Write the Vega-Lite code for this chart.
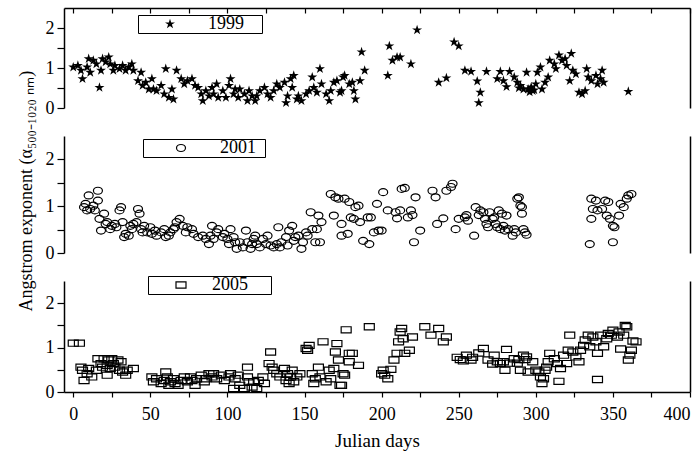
{
  "$schema": "https://vega.github.io/schema/vega-lite/v6.json",
  "background": "white",
  "padding": {"left": 17, "top": 7, "right": 4, "bottom": 4},
  "spacing": 28,
  "bounds": "flush",
  "resolve": {"scale": {"shape": "independent"}, "legend": {"shape": "independent"}},
  "config": {
    "font": "Liberation Serif",
    "view": {"stroke": null},
    "axis": {"domainColor": "black", "tickColor": "black", "labelColor": "black", "titleColor": "black", "labelFont": "Liberation Serif", "titleFont": "Liberation Serif", "labelFontSize": 18, "titleFontSize": 19, "titleFontWeight": "normal", "domainWidth": 1.5, "tickWidth": 1.2, "grid": false},
    "legend": {"labelFont": "Liberation Serif", "labelFontSize": 18, "labelColor": "black", "strokeColor": "black", "fillColor": "white", "padding": 0, "cornerRadius": 0}
  },
  "datasets": {
    "y1999": [
      {"d":0,"a":1.02},{"d":3,"a":1.06},{"d":5,"a":0.94},{"d":6,"a":0.73},{"d":9,"a":1.02},{"d":10,"a":1.23},{"d":11,"a":0.89},{"d":13,"a":1.19},{"d":15,"a":1.10},{"d":17,"a":0.51},{"d":18,"a":0.94},{"d":19,"a":1.23},{"d":21,"a":1.15},{"d":23,"a":1.27},{"d":24,"a":1.10},{"d":26,"a":0.94},{"d":27,"a":1.06},{"d":30,"a":0.98},{"d":32,"a":1.06},{"d":34,"a":0.94},{"d":36,"a":1.02},{"d":38,"a":1.10},{"d":39,"a":0.94},{"d":42,"a":0.68},{"d":44,"a":0.89},{"d":45,"a":0.56},{"d":47,"a":0.64},{"d":49,"a":0.47},{"d":51,"a":0.73},{"d":52,"a":0.47},{"d":54,"a":0.43},{"d":57,"a":0.56},{"d":59,"a":0.35},{"d":60,"a":0.98},{"d":62,"a":0.26},{"d":64,"a":0.47},{"d":65,"a":0.22},{"d":67,"a":0.94},{"d":70,"a":0.73},{"d":72,"a":0.60},{"d":74,"a":0.68},{"d":77,"a":0.73},{"d":79,"a":0.56},{"d":81,"a":0.51},{"d":83,"a":0.35},{"d":84,"a":0.18},{"d":86,"a":0.43},{"d":88,"a":0.30},{"d":90,"a":0.51},{"d":91,"a":0.35},{"d":93,"a":0.60},{"d":94,"a":0.26},{"d":97,"a":0.43},{"d":99,"a":0.26},{"d":101,"a":0.56},{"d":102,"a":0.73},{"d":104,"a":0.35},{"d":105,"a":0.47},{"d":107,"a":0.26},{"d":108,"a":0.47},{"d":111,"a":0.35},{"d":113,"a":0.18},{"d":114,"a":0.43},{"d":116,"a":0.30},{"d":118,"a":0.18},{"d":119,"a":0.30},{"d":121,"a":0.43},{"d":124,"a":0.51},{"d":126,"a":0.35},{"d":128,"a":0.26},{"d":130,"a":0.43},{"d":132,"a":0.60},{"d":134,"a":0.51},{"d":137,"a":0.64},{"d":138,"a":0.13},{"d":139,"a":0.30},{"d":141,"a":0.73},{"d":142,"a":0.51},{"d":143,"a":0.81},{"d":145,"a":0.22},{"d":146,"a":0.30},{"d":148,"a":0.18},{"d":151,"a":0.35},{"d":153,"a":0.43},{"d":155,"a":0.77},{"d":156,"a":0.51},{"d":158,"a":0.39},{"d":160,"a":0.98},{"d":161,"a":0.60},{"d":164,"a":0.35},{"d":166,"a":0.18},{"d":167,"a":0.43},{"d":169,"a":0.64},{"d":171,"a":0.68},{"d":173,"a":0.39},{"d":174,"a":0.43},{"d":175,"a":0.77},{"d":176,"a":0.81},{"d":179,"a":0.60},{"d":181,"a":0.64},{"d":182,"a":0.43},{"d":183,"a":0.22},{"d":186,"a":0.68},{"d":187,"a":1.40},{"d":189,"a":0.94},{"d":204,"a":0.81},{"d":205,"a":1.55},{"d":207,"a":1.19},{"d":210,"a":1.27},{"d":212,"a":1.27},{"d":219,"a":1.10},{"d":223,"a":1.95},{"d":237,"a":0.64},{"d":242,"a":0.75},{"d":247,"a":1.65},{"d":250,"a":1.55},{"d":254,"a":0.94},{"d":258,"a":0.91},{"d":262,"a":0.67},{"d":263,"a":0.13},{"d":264,"a":0.39},{"d":268,"a":0.91},{"d":275,"a":0.73},{"d":277,"a":0.91},{"d":279,"a":0.68},{"d":281,"a":0.53},{"d":283,"a":0.91},{"d":286,"a":0.77},{"d":288,"a":0.64},{"d":289,"a":0.50},{"d":290,"a":0.56},{"d":292,"a":0.47},{"d":294,"a":0.89},{"d":295,"a":0.47},{"d":296,"a":0.40},{"d":297,"a":0.52},{"d":298,"a":0.43},{"d":299,"a":0.45},{"d":300,"a":0.60},{"d":301,"a":0.89},{"d":303,"a":1.02},{"d":304,"a":0.47},{"d":306,"a":0.64},{"d":308,"a":0.77},{"d":309,"a":1.19},{"d":312,"a":1.10},{"d":313,"a":0.98},{"d":315,"a":1.32},{"d":317,"a":1.19},{"d":319,"a":1.23},{"d":320,"a":1.06},{"d":322,"a":0.68},{"d":323,"a":1.36},{"d":324,"a":0.94},{"d":326,"a":0.85},{"d":328,"a":0.39},{"d":330,"a":0.35},{"d":332,"a":0.43},{"d":333,"a":0.98},{"d":334,"a":0.77},{"d":336,"a":0.68},{"d":339,"a":0.81},{"d":340,"a":0.60},{"d":342,"a":0.73},{"d":343,"a":0.94},{"d":344,"a":0.64},{"d":360,"a":0.41}
    ],
    "y2001": [
      {"d":7,"a":0.98},{"d":8,"a":1.05},{"d":9,"a":0.91},{"d":10,"a":1.23},{"d":11,"a":0.94},{"d":13,"a":1.01},{"d":14,"a":0.91},{"d":16,"a":1.33},{"d":16,"a":1.12},{"d":17,"a":0.73},{"d":18,"a":0.48},{"d":20,"a":0.84},{"d":21,"a":0.62},{"d":22,"a":0.66},{"d":24,"a":0.51},{"d":25,"a":0.58},{"d":27,"a":0.62},{"d":28,"a":0.55},{"d":30,"a":0.91},{"d":31,"a":0.98},{"d":32,"a":0.66},{"d":33,"a":0.34},{"d":34,"a":0.41},{"d":36,"a":0.37},{"d":37,"a":0.58},{"d":38,"a":0.51},{"d":39,"a":0.62},{"d":41,"a":0.66},{"d":42,"a":0.94},{"d":43,"a":0.84},{"d":44,"a":0.51},{"d":45,"a":0.44},{"d":46,"a":0.58},{"d":48,"a":0.44},{"d":50,"a":0.55},{"d":51,"a":0.41},{"d":53,"a":0.48},{"d":54,"a":0.37},{"d":57,"a":0.44},{"d":59,"a":0.51},{"d":60,"a":0.34},{"d":62,"a":0.37},{"d":63,"a":0.44},{"d":65,"a":0.51},{"d":66,"a":0.55},{"d":67,"a":0.66},{"d":69,"a":0.73},{"d":71,"a":0.58},{"d":73,"a":0.44},{"d":74,"a":0.55},{"d":77,"a":0.51},{"d":78,"a":0.41},{"d":81,"a":0.34},{"d":84,"a":0.37},{"d":86,"a":0.30},{"d":88,"a":0.19},{"d":89,"a":0.37},{"d":90,"a":0.58},{"d":91,"a":0.30},{"d":93,"a":0.44},{"d":94,"a":0.51},{"d":97,"a":0.34},{"d":98,"a":0.41},{"d":100,"a":0.30},{"d":101,"a":0.19},{"d":102,"a":0.51},{"d":104,"a":0.34},{"d":105,"a":0.23},{"d":106,"a":0.09},{"d":108,"a":0.23},{"d":110,"a":0.12},{"d":112,"a":0.48},{"d":113,"a":0.23},{"d":115,"a":0.09},{"d":116,"a":0.19},{"d":117,"a":0.30},{"d":118,"a":0.37},{"d":119,"a":0.19},{"d":121,"a":0.12},{"d":123,"a":0.30},{"d":125,"a":0.19},{"d":126,"a":0.37},{"d":128,"a":0.16},{"d":130,"a":0.12},{"d":132,"a":0.19},{"d":133,"a":0.55},{"d":134,"a":0.12},{"d":135,"a":0.23},{"d":138,"a":0.34},{"d":139,"a":0.16},{"d":140,"a":0.48},{"d":142,"a":0.58},{"d":143,"a":0.26},{"d":144,"a":0.34},{"d":146,"a":0.37},{"d":148,"a":0.09},{"d":149,"a":0.23},{"d":151,"a":0.44},{"d":152,"a":0.37},{"d":154,"a":0.87},{"d":155,"a":0.51},{"d":157,"a":0.23},{"d":158,"a":0.51},{"d":159,"a":0.80},{"d":160,"a":0.23},{"d":161,"a":0.66},{"d":167,"a":1.26},{"d":169,"a":0.80},{"d":170,"a":1.19},{"d":172,"a":1.16},{"d":174,"a":0.62},{"d":174,"a":0.37},{"d":176,"a":1.16},{"d":178,"a":0.41},{"d":179,"a":1.09},{"d":180,"a":0.76},{"d":182,"a":0.73},{"d":183,"a":0.98},{"d":185,"a":1.01},{"d":186,"a":0.66},{"d":188,"a":0.26},{"d":191,"a":0.76},{"d":192,"a":0.19},{"d":193,"a":0.76},{"d":195,"a":0.44},{"d":197,"a":1.05},{"d":198,"a":0.48},{"d":200,"a":0.48},{"d":201,"a":1.30},{"d":204,"a":0.91},{"d":209,"a":0.87},{"d":210,"a":0.74},{"d":212,"a":0.91},{"d":213,"a":1.37},{"d":215,"a":1.39},{"d":217,"a":0.76},{"d":219,"a":0.91},{"d":220,"a":0.81},{"d":221,"a":0.23},{"d":222,"a":1.19},{"d":225,"a":0.48},{"d":233,"a":1.33},{"d":235,"a":1.19},{"d":236,"a":0.62},{"d":240,"a":0.74},{"d":242,"a":1.33},{"d":245,"a":1.41},{"d":246,"a":1.48},{"d":248,"a":0.51},{"d":250,"a":0.73},{"d":254,"a":0.76},{"d":255,"a":0.81},{"d":256,"a":0.69},{"d":260,"a":0.37},{"d":261,"a":0.98},{"d":263,"a":0.81},{"d":264,"a":0.91},{"d":266,"a":0.87},{"d":267,"a":0.73},{"d":268,"a":0.62},{"d":269,"a":0.55},{"d":270,"a":0.87},{"d":272,"a":0.73},{"d":273,"a":0.76},{"d":274,"a":0.62},{"d":275,"a":0.55},{"d":276,"a":0.91},{"d":277,"a":0.51},{"d":278,"a":0.84},{"d":279,"a":0.58},{"d":280,"a":0.48},{"d":281,"a":0.80},{"d":282,"a":0.51},{"d":285,"a":0.37},{"d":286,"a":0.51},{"d":287,"a":0.44},{"d":288,"a":1.16},{"d":289,"a":1.19},{"d":290,"a":1.01},{"d":291,"a":0.84},{"d":291,"a":0.98},{"d":292,"a":0.51},{"d":293,"a":0.44},{"d":294,"a":0.39},{"d":335,"a":0.19},{"d":336,"a":1.16},{"d":336,"a":0.73},{"d":337,"a":0.94},{"d":339,"a":1.12},{"d":340,"a":0.91},{"d":343,"a":0.94},{"d":345,"a":1.12},{"d":346,"a":0.80},{"d":347,"a":1.09},{"d":348,"a":0.73},{"d":350,"a":0.58},{"d":350,"a":0.23},{"d":351,"a":0.55},{"d":354,"a":0.80},{"d":355,"a":1.05},{"d":357,"a":0.98},{"d":359,"a":1.16},{"d":360,"a":1.23},{"d":362,"a":1.26}
    ],
    "y2005": [
      {"d":0,"a":1.10},{"d":4,"a":1.10},{"d":5,"a":0.56},{"d":6,"a":0.49},{"d":7,"a":0.26},{"d":9,"a":0.41},{"d":10,"a":0.53},{"d":12,"a":0.34},{"d":15,"a":0.49},{"d":16,"a":0.75},{"d":18,"a":0.64},{"d":19,"a":0.56},{"d":20,"a":0.75},{"d":22,"a":0.60},{"d":22,"a":0.38},{"d":23,"a":0.72},{"d":24,"a":0.53},{"d":25,"a":0.75},{"d":26,"a":0.64},{"d":27,"a":0.56},{"d":29,"a":0.72},{"d":30,"a":0.49},{"d":31,"a":0.68},{"d":32,"a":0.45},{"d":34,"a":0.38},{"d":35,"a":0.49},{"d":39,"a":0.53},{"d":51,"a":0.34},{"d":52,"a":0.23},{"d":54,"a":0.30},{"d":57,"a":0.19},{"d":59,"a":0.26},{"d":60,"a":0.45},{"d":61,"a":0.34},{"d":62,"a":0.15},{"d":63,"a":0.23},{"d":65,"a":0.30},{"d":66,"a":0.19},{"d":68,"a":0.15},{"d":70,"a":0.26},{"d":72,"a":0.34},{"d":74,"a":0.23},{"d":76,"a":0.34},{"d":77,"a":0.26},{"d":79,"a":0.15},{"d":80,"a":0.30},{"d":83,"a":0.38},{"d":85,"a":0.23},{"d":86,"a":0.30},{"d":88,"a":0.41},{"d":90,"a":0.34},{"d":91,"a":0.41},{"d":93,"a":0.30},{"d":96,"a":0.38},{"d":98,"a":0.26},{"d":101,"a":0.34},{"d":102,"a":0.41},{"d":104,"a":0.08},{"d":105,"a":0.30},{"d":107,"a":0.38},{"d":108,"a":0.15},{"d":111,"a":0.08},{"d":113,"a":0.34},{"d":113,"a":0.56},{"d":114,"a":0.23},{"d":116,"a":0.11},{"d":117,"a":0.23},{"d":119,"a":0.08},{"d":120,"a":0.26},{"d":123,"a":0.34},{"d":124,"a":0.19},{"d":127,"a":0.64},{"d":128,"a":0.90},{"d":129,"a":0.56},{"d":130,"a":0.49},{"d":132,"a":0.41},{"d":134,"a":0.34},{"d":137,"a":0.53},{"d":138,"a":0.26},{"d":139,"a":0.41},{"d":140,"a":0.19},{"d":141,"a":0.34},{"d":142,"a":0.49},{"d":143,"a":0.23},{"d":145,"a":0.34},{"d":147,"a":0.41},{"d":151,"a":0.98},{"d":152,"a":0.94},{"d":153,"a":1.05},{"d":155,"a":0.41},{"d":156,"a":0.19},{"d":157,"a":0.30},{"d":159,"a":0.56},{"d":160,"a":0.34},{"d":162,"a":1.13},{"d":164,"a":0.23},{"d":166,"a":0.49},{"d":167,"a":0.30},{"d":169,"a":0.53},{"d":170,"a":0.90},{"d":171,"a":1.09},{"d":172,"a":0.72},{"d":173,"a":0.15},{"d":174,"a":0.15},{"d":175,"a":0.41},{"d":176,"a":0.38},{"d":177,"a":1.40},{"d":179,"a":0.68},{"d":179,"a":0.87},{"d":181,"a":0.87},{"d":185,"a":0.60},{"d":192,"a":1.47},{"d":200,"a":0.41},{"d":201,"a":0.49},{"d":202,"a":0.38},{"d":204,"a":0.30},{"d":206,"a":0.51},{"d":208,"a":0.72},{"d":210,"a":0.87},{"d":211,"a":1.13},{"d":212,"a":1.35},{"d":213,"a":1.43},{"d":214,"a":1.20},{"d":215,"a":0.87},{"d":218,"a":0.94},{"d":220,"a":1.24},{"d":228,"a":1.47},{"d":232,"a":1.28},{"d":237,"a":1.43},{"d":240,"a":1.13},{"d":242,"a":1.24},{"d":249,"a":0.78},{"d":251,"a":0.73},{"d":253,"a":0.70},{"d":255,"a":0.83},{"d":258,"a":0.72},{"d":259,"a":0.78},{"d":263,"a":0.88},{"d":266,"a":0.98},{"d":269,"a":0.72},{"d":272,"a":0.63},{"d":273,"a":0.83},{"d":275,"a":0.68},{"d":277,"a":0.64},{"d":279,"a":0.68},{"d":280,"a":0.49},{"d":281,"a":0.96},{"d":283,"a":0.65},{"d":286,"a":0.75},{"d":288,"a":0.65},{"d":289,"a":0.73},{"d":290,"a":0.49},{"d":292,"a":0.83},{"d":293,"a":0.73},{"d":294,"a":0.79},{"d":295,"a":0.45},{"d":298,"a":0.68},{"d":300,"a":0.49},{"d":302,"a":0.45},{"d":303,"a":0.34},{"d":304,"a":0.19},{"d":305,"a":0.30},{"d":306,"a":0.49},{"d":307,"a":0.56},{"d":308,"a":0.68},{"d":309,"a":0.87},{"d":312,"a":0.75},{"d":314,"a":0.64},{"d":315,"a":0.24},{"d":316,"a":0.53},{"d":318,"a":0.83},{"d":320,"a":0.64},{"d":321,"a":0.94},{"d":322,"a":1.28},{"d":324,"a":0.90},{"d":326,"a":0.79},{"d":328,"a":0.68},{"d":329,"a":0.94},{"d":331,"a":1.05},{"d":332,"a":1.17},{"d":334,"a":1.28},{"d":335,"a":1.02},{"d":337,"a":1.24},{"d":339,"a":1.13},{"d":340,"a":0.87},{"d":340,"a":0.28},{"d":342,"a":1.28},{"d":344,"a":1.02},{"d":346,"a":1.20},{"d":347,"a":1.32},{"d":349,"a":1.28},{"d":350,"a":1.39},{"d":353,"a":1.24},{"d":354,"a":1.35},{"d":355,"a":0.97},{"d":357,"a":1.28},{"d":358,"a":1.50},{"d":359,"a":1.47},{"d":360,"a":0.72},{"d":361,"a":0.83},{"d":362,"a":0.94},{"d":363,"a":1.15},{"d":365,"a":1.13}
    ]
  },
  "vconcat": [
    {
      "width": 626, "height": 100,
      "data": {"name": "y1999"},
      "layer": [
        {
          "mark": {"type": "point", "filled": true, "color": "black", "opacity": 1},
          "encoding": {
            "x": {"field": "d", "type": "quantitative", "scale": {"domain": [-6, 400], "nice": false, "zero": false},
                  "axis": {"orient": "top", "values": [0,25,50,75,100,125,150,175,200,225,250,275,300,325,350,375,400], "labels": false, "tickSize": -5, "title": null}},
            "y": {"field": "a", "type": "quantitative", "scale": {"domain": [0, 2.5], "nice": false},
                  "axis": {"values": [0, 0.5, 1, 1.5, 2], "format": ".0f", "labelExpr": "datum.value % 1 == 0 ? datum.label : ''", "title": null, "tickSize": 7, "labelPadding": 3}},
            "shape": {"datum": "1999", "type": "nominal",
                      "scale": {"range": ["M0,-1L0.2245,-0.309L0.951,-0.309L0.3633,0.118L0.588,0.809L0,0.382L-0.588,0.809L-0.3633,0.118L-0.951,-0.309L-0.2245,-0.309Z"]},
                      "legend": {"orient": "none", "legendX": 74, "legendY": 7, "title": null, "symbolOffset": 23, "labelOffset": 29, "symbolSize": 110, "symbolFillColor": "black", "symbolStrokeColor": "black", "labelExpr": "datum.label + '\u00a0\u00a0\u00a0\u2009\u200b'"}},
            "size": {"value": 110}
          }
        },
        {
          "mark": {"type": "point", "opacity": 0},
          "encoding": {
            "y": {"field": "a", "type": "quantitative", "axis": {"orient": "right", "labels": false, "ticks": false, "title": null}}
          }
        }
      ],
      "resolve": {"axis": {"y": "independent"}}
    },
    {
      "width": 626, "height": 117,
      "data": {"name": "y2001"},
      "layer": [
        {
          "mark": {"type": "point", "filled": false, "color": "black", "strokeWidth": 1.2, "opacity": 1},
          "encoding": {
            "x": {"field": "d", "type": "quantitative", "scale": {"domain": [-6, 400], "nice": false, "zero": false}, "axis": null},
            "y": {"field": "a", "type": "quantitative", "scale": {"domain": [0, 2.5], "nice": false},
                  "axis": {"values": [0, 0.5, 1, 1.5, 2], "format": ".0f", "labelExpr": "datum.value % 1 == 0 ? datum.label : ''", "tickSize": 7, "labelPadding": 3,
                           "title": "Angstrom exponent (α₅₀₀₋₁₀₂₀ ₙₘ)", "titleAngle": -90, "titleAlign": "left", "titleBaseline": "alphabetic", "titleX": -33, "titleY": 175, "titleFontSize": 18}},
            "shape": {"datum": "2001", "type": "nominal",
                      "scale": {"range": ["M-1,0A1,0.78,0,1,0,1,0A1,0.78,0,1,0,-1,0Z"]},
                      "legend": {"orient": "none", "legendX": 79, "legendY": 3, "title": null, "symbolOffset": 29, "labelOffset": 30, "symbolSize": 81, "symbolStrokeColor": "black", "symbolStrokeWidth": 1.2, "labelExpr": "datum.label + '\u00a0\u00a0\u200b'"}},
            "size": {"value": 81}
          }
        },
        {
          "mark": {"type": "point", "opacity": 0},
          "encoding": {
            "y": {"field": "a", "type": "quantitative", "axis": {"orient": "right", "labels": false, "ticks": false, "title": null}}
          }
        }
      ],
      "resolve": {"axis": {"y": "independent"}}
    },
    {
      "width": 626, "height": 111,
      "data": {"name": "y2005"},
      "layer": [
        {
          "mark": {"type": "point", "filled": false, "color": "black", "strokeWidth": 1.2, "opacity": 1},
          "encoding": {
            "x": {"field": "d", "type": "quantitative", "scale": {"domain": [-6, 400], "nice": false, "zero": false},
                  "axis": {"values": [0,25,50,75,100,125,150,175,200,225,250,275,300,325,350,375,400], "labelExpr": "datum.value % 50 == 0 ? datum.label : ''", "tickSize": 5, "labelPadding": 8, "title": "Julian days", "titlePadding": 8}},
            "y": {"field": "a", "type": "quantitative", "scale": {"domain": [0, 2.5], "nice": false},
                  "axis": {"values": [0, 0.5, 1, 1.5, 2], "format": ".0f", "labelExpr": "datum.value % 1 == 0 ? datum.label : ''", "title": null, "tickSize": 7, "labelPadding": 3}},
            "shape": {"datum": "2005", "type": "nominal",
                      "scale": {"range": ["M-1,-0.62L1,-0.62L1,0.62L-1,0.62Z"]},
                      "legend": {"orient": "none", "legendX": 84, "legendY": -5, "title": null, "symbolOffset": 24, "labelOffset": 22, "symbolSize": 100, "symbolStrokeColor": "black", "symbolStrokeWidth": 1.2, "labelExpr": "datum.label + '\u00a0\u00a0\u00a0\u00a0\u00a0\u200b'"}},
            "size": {"value": 100}
          }
        },
        {
          "mark": {"type": "point", "opacity": 0},
          "encoding": {
            "y": {"field": "a", "type": "quantitative", "axis": {"orient": "right", "labels": false, "ticks": false, "title": null}}
          }
        }
      ],
      "resolve": {"axis": {"y": "independent"}}
    }
  ]
}
